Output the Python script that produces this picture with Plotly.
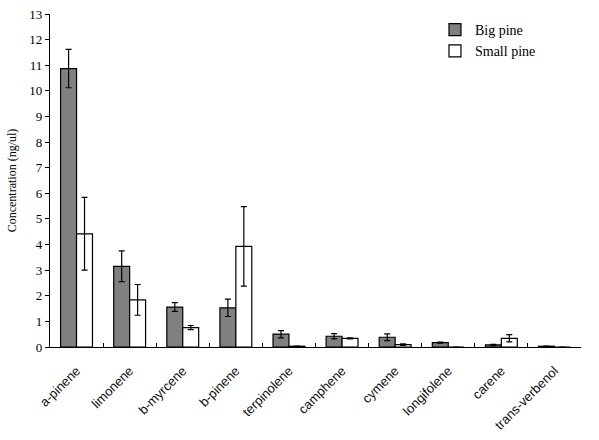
import plotly.graph_objects as go

categories = ["a-pinene", "limonene", "b-myrcene", "b-pinene", "terpinolene",
              "camphene", "cymene", "longifolene", "carene", "trans-verbenol"]
big_pine = [10.87, 3.15, 1.56, 1.53, 0.50, 0.42, 0.38, 0.17, 0.08, 0.03]
big_err = [0.75, 0.60, 0.17, 0.34, 0.14, 0.10, 0.13, 0.02, 0.02, 0.01]
small_pine = [4.42, 1.84, 0.76, 3.93, 0.03, 0.34, 0.09, 0.0, 0.34, 0.0]
small_err = [1.42, 0.60, 0.08, 1.55, 0.01, 0.02, 0.03, 0.0, 0.14, 0.0]
y_ticks = list(range(0, 14))

serif = "Liberation Serif, Times New Roman, serif"
sans = "Liberation Sans, Arial, sans-serif"

fig = go.Figure()
fig.add_trace(go.Bar(
    x=categories, y=big_pine, name="Big pine",
    marker=dict(color="#808080", line=dict(color="black", width=1.2)),
    error_y=dict(type="data", array=big_err, color="black", thickness=1.2, width=3),
))
fig.add_trace(go.Bar(
    x=categories, y=small_pine, name="Small pine",
    marker=dict(color="white", line=dict(color="black", width=1.2)),
    error_y=dict(type="data", array=small_err, color="black", thickness=1.2, width=3),
))

fig.update_layout(
    width=599, height=440,
    margin=dict(l=50, r=18, t=7, b=92),
    paper_bgcolor="white", plot_bgcolor="white",
    barmode="group", bargap=0.4, bargroupgap=0,
    showlegend=True,
    legend=dict(x=0.725, y=1.0, xanchor="left", yanchor="top",
                font=dict(family=serif, size=14, color="black"),
                bgcolor="rgba(0,0,0,0)", itemwidth=30),
    xaxis=dict(
        showline=True, linecolor="black", linewidth=1.2,
        ticks="inside", tickson="boundaries", ticklen=4, tickcolor="black",
        tickangle=-45, tickfont=dict(family=sans, size=13, color="#111"),
        ticklabelstandoff=10,
        showgrid=False,
    ),
    yaxis=dict(
        range=[0, 13.0001], tickvals=y_ticks, ticktext=[str(v) for v in y_ticks],
        showline=True, linecolor="black", linewidth=1.2,
        ticks="outside", ticklen=4, tickcolor="black",
        tickfont=dict(family=serif, size=13, color="black"),
        ticklabeloverflow="allow",
        showgrid=False, zeroline=False,
        title=dict(text="Concentration (ng/ul)", font=dict(family=serif, size=12, color="black"),
                   standoff=10),
    ),
)

fig.write_html("out.html")
